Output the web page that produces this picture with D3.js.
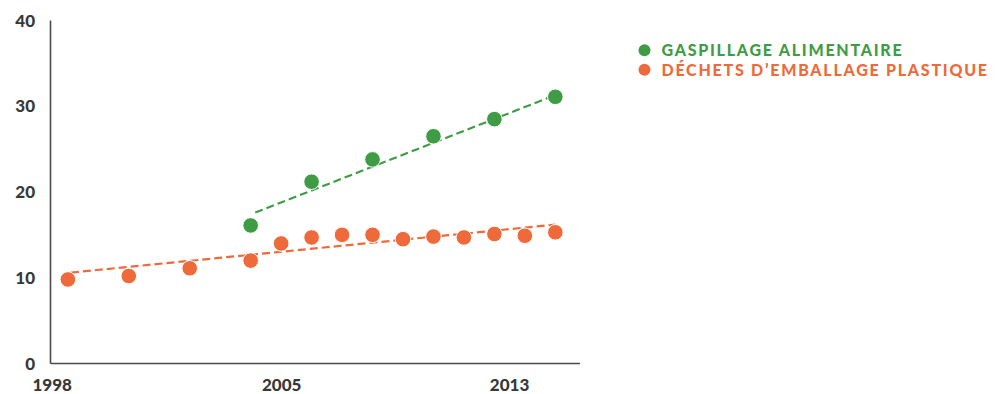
<html>
<meta charset="utf-8">
<head>
<script src="https://d3js.org/d3.v7.min.js"></script>
<style>
  html, body {margin:0; padding:0; background:#fff;}
  svg {display:block; background:#fff;}
</style>
</head>
<body>
<svg class="svg"></svg>
<script>

// data
const seriesNames = ["GASPILLAGE ALIMENTAIRE", "DÉCHETS D\u2019EMBALLAGE PLASTIQUE"]
const seriesColors = ["#3f9c45", "#ee6a3b"]

const foodYears = [2004, 2006, 2008, 2010, 2012, 2014]
const foodValues = [16.1, 21.2, 23.8, 26.5, 28.5, 31.1]

const plasticYears = [1998, 2000, 2002, 2004, 2005, 2006, 2007, 2008, 2009, 2010, 2011, 2012, 2013, 2014]
const plasticValues = [9.8, 10.2, 11.1, 12.0, 14.0, 14.7, 15.0, 15.0, 14.5, 14.8, 14.7, 15.1, 14.9, 15.3]

// trend line end points (year, value)
const foodTrend = [[2004.15, 17.6], [2014, 31.3]]
const plasticTrend = [[1998.1, 10.6], [2014, 16.2]]

const yTicks = [0, 10, 20, 30, 40]
const xTickAt = [1997.47, 2005, 2012.48]
const xTickLabels = ["1998", "2005", "2013"]

const W = 1001, H = 394
const margin = ({left:50.5, top:20.5})
const plot = ({width:529.5, height:343})

var svg = d3.select("svg")
  .attr("width", W)
  .attr("height", H)

var xScale = d3.scaleLinear()
  .domain([1997.43, 2014.81])
  .range([margin.left, margin.left+plot.width])

var yScale = d3.scaleLinear()
  .domain([0, 40])
  .range([margin.top+plot.height, margin.top])

// axes lines
svg.append("line")
  .attr("x1", margin.left).attr("x2", margin.left)
  .attr("y1", yScale(40)).attr("y2", yScale(0))
  .attr("stroke", "#4a4a4a").attr("stroke-width", 1.6)

svg.append("line")
  .attr("x1", margin.left).attr("x2", margin.left+plot.width)
  .attr("y1", yScale(0)).attr("y2", yScale(0))
  .attr("stroke", "#4a4a4a").attr("stroke-width", 1.6)

// y labels
svg.append("g").selectAll("text")
  .data(yTicks)
  .enter().append("text")
  .attr("x", 35)
  .attr("y", d=>yScale(d))
  .attr("dy", "0.36em")
  .attr("text-anchor", "end")
  .style("font-family", "Lato")
  .style("font-weight", "900")
  .style("font-size", "17px")
  .style("fill", "#383838")
  .text(d=>d)

// x labels
var xAxis = d3.axisBottom(xScale)
  .tickValues(xTickAt)
  .tickFormat((d,i)=>xTickLabels[i])
  .tickSize(0)
  .tickPadding(15)

var xg = svg.append("g")
  .attr("transform", "translate(0,"+yScale(0)+")")
  .call(xAxis)
xg.select(".domain").remove()
xg.selectAll("text")
  .style("font-family", "Lato")
  .style("font-weight", "900")
  .style("font-size", "17px")
  .style("fill", "#383838")

const line = d3.line()
  .x(d=>xScale(d[0]))
  .y(d=>yScale(d[1]))

// trend lines
svg.append("path")
  .datum(plasticTrend)
  .attr("d", line)
  .attr("fill", "none")
  .attr("stroke", seriesColors[1])
  .attr("stroke-width", 2.2)
  .attr("stroke-dasharray", "8,4")

svg.append("path")
  .datum(foodTrend)
  .attr("d", line)
  .attr("fill", "none")
  .attr("stroke", seriesColors[0])
  .attr("stroke-width", 2.2)
  .attr("stroke-dasharray", "8,4")

// dots
svg.append("g").selectAll("circle")
  .data(plasticYears)
  .enter().append("circle")
  .attr("cx", d=>xScale(d))
  .attr("cy", (d,i)=>yScale(plasticValues[i]))
  .attr("r", 7.8)
  .attr("fill", seriesColors[1])
  .attr("stroke", "#fff")
  .attr("stroke-width", 1)

svg.append("g").selectAll("circle")
  .data(foodYears)
  .enter().append("circle")
  .attr("cx", d=>xScale(d))
  .attr("cy", (d,i)=>yScale(foodValues[i]))
  .attr("r", 7.8)
  .attr("fill", seriesColors[0])
  .attr("stroke", "#fff")
  .attr("stroke-width", 1)

// legend
var legend = svg.append("g").selectAll("g")
  .data(seriesNames)
  .enter().append("g")
  .attr("transform", (d,i)=>"translate(644.5,"+(50.3+i*19.5)+")")

legend.append("circle")
  .attr("r", 6)
  .attr("fill", (d,i)=>seriesColors[i])

legend.append("text")
  .attr("x", 17)
  .attr("dy", "0.36em")
  .style("font-family", "Lato")
  .style("font-weight", "900")
  .style("font-size", "16px")
  .style("letter-spacing", "1.75px")
  .style("fill", (d,i)=>seriesColors[i])
  .text(d=>d)

</script>
</body>
</html>
